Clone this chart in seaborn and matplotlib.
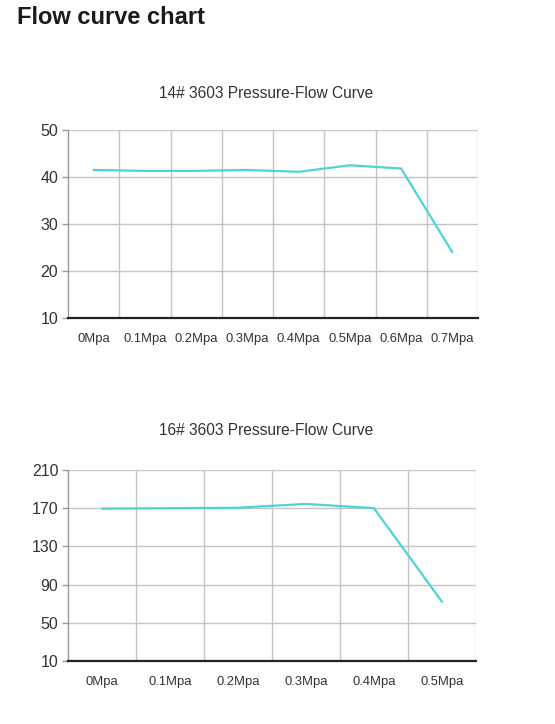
import matplotlib.pyplot as plt
import numpy as np
import pandas as pd
import seaborn as sns

# chart 1: 14# 3603
p14 = ['0Mpa', '0.1Mpa', '0.2Mpa', '0.3Mpa', '0.4Mpa', '0.5Mpa', '0.6Mpa', '0.7Mpa']
flow14 = [41.5, 41.3, 41.3, 41.5, 41.1, 42.5, 41.8, 24.0]
yticks14 = [10, 20, 30, 40, 50]

# chart 2: 16# 3603
p16 = ['0Mpa', '0.1Mpa', '0.2Mpa', '0.3Mpa', '0.4Mpa', '0.5Mpa']
flow16 = [169.5, 170.0, 170.5, 174.5, 170.0, 72.0]
yticks16 = [10, 50, 90, 130, 170, 210]

sns.set_style('white')
plt.rcParams['font.family'] = ['Liberation Sans', 'DejaVu Sans']

line_color = '#4fd3d3'
text_color = '#333333'

fig = plt.figure(figsize=(5.55, 7.24), dpi=100)
fig.text(17 / 555, 1 - 18 / 724, 'Flow curve chart', fontsize=17, fontweight='bold',
         color='#1a1a1a', ha='left', va='center')


def draw(ax, cats, vals, yticks, title, title_y, xfs):
    df = pd.DataFrame({'pressure': cats, 'flow': vals})
    df['pos'] = np.arange(len(cats))
    sns.lineplot(data=df, x='pos', y='flow', ax=ax, color=line_color, linewidth=1.6)
    n = len(cats)
    ax.set_xlim(-0.5, n - 0.5)
    ax.set_ylim(yticks[0], yticks[-1])
    ax.set_yticks(yticks)
    ax.set_xticks(np.arange(n))
    ax.set_xticklabels(cats)
    ax.grid(False)
    for b in np.arange(n - 1) + 0.5:
        ax.axvline(b, color='#c4c4c4', lw=1, zorder=0)
    for t in yticks[1:-1]:
        ax.axhline(t, color='#c4c4c4', lw=1, zorder=0)
    ax.axhline(yticks[-1], color='#c8c8c8', lw=1, zorder=0)
    for s in ['top', 'right']:
        ax.spines[s].set_visible(False)
    ax.axvline(n - 0.5, color='#c4c4c4', lw=1, zorder=0)
    ax.spines['left'].set_color('#999999')
    ax.spines['left'].set_linewidth(1)
    ax.spines['bottom'].set_color('#222222')
    ax.spines['bottom'].set_linewidth(1.6)
    ax.tick_params(axis='y', which='major', left=True, length=4, width=1, color='#999999',
                   labelsize=11.5, labelcolor=text_color, pad=3)
    ax.tick_params(axis='x', which='both', bottom=False, labelsize=xfs,
                   labelcolor=text_color, pad=7)
    ax.set_xlabel('')
    ax.set_ylabel('')
    fig.text(266 / 555, 1 - title_y / 724, title, fontsize=11.2, color=text_color,
             ha='center', va='center')


ax1 = fig.add_axes([68 / 555, 1 - 318 / 724, 410 / 555, 188 / 724])
draw(ax1, p14, flow14, yticks14, '14# 3603 Pressure-Flow Curve', 94, 9.4)

ax2 = fig.add_axes([68 / 555, 1 - 661 / 724, 408 / 555, 191 / 724])
draw(ax2, p16, flow16, yticks16, '16# 3603 Pressure-Flow Curve', 431, 9.4)

fig.savefig('out.png', dpi=100, facecolor='white')
